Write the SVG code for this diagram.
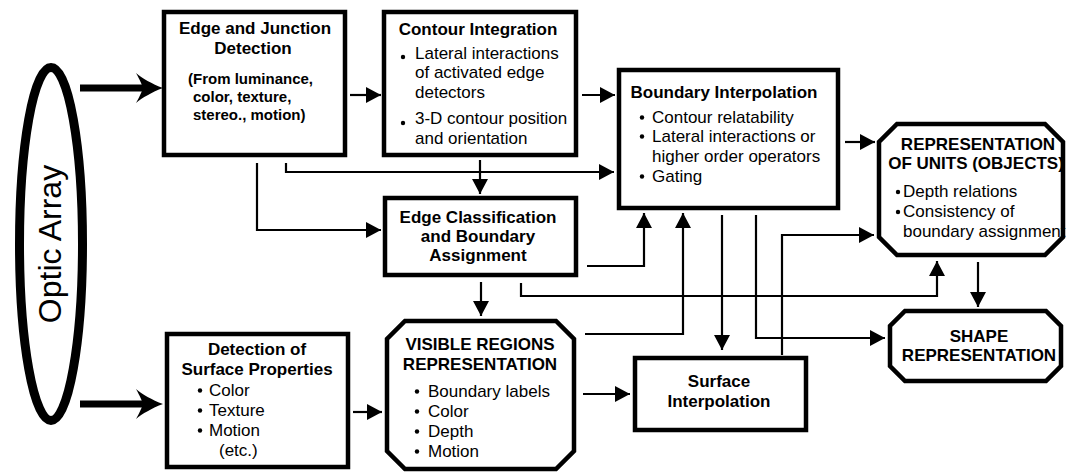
<svg xmlns="http://www.w3.org/2000/svg" width="1066" height="473" viewBox="0 0 1066 473">
<style>
.box{fill:#fff;stroke:#000;stroke-width:4.5}
.c{fill:none;stroke:#000;stroke-width:2.2}
.tk{fill:none;stroke:#000;stroke-width:7}
.t{font-family:"Liberation Sans",Arial,sans-serif;font-size:17px;font-weight:bold;text-anchor:middle;fill:#000}
.s{font-family:"Liberation Sans",Arial,sans-serif;font-size:15px;font-weight:bold;fill:#000}
.b{font-family:"Liberation Sans",Arial,sans-serif;font-size:17px;fill:#000}
.o{font-family:"Liberation Sans",Arial,sans-serif;font-size:32px;fill:#000;text-anchor:middle}
.d{fill:#000}
</style>
<defs>
<marker id="ah" markerUnits="userSpaceOnUse" markerWidth="16" markerHeight="16" refX="15" refY="8" orient="auto" viewBox="0 0 16 16">
<path d="M0,0 L15,8 L0,16 z" fill="#000"/>
</marker>
</defs>
<rect width="1066" height="473" fill="#fff"/>

<g id="optic-array">
<ellipse cx="51" cy="244" rx="31.5" ry="176.5" fill="#fff" stroke="#000" stroke-width="9"/>
<text class="o" transform="translate(61,244) rotate(-90)" x="0" y="0">Optic Array</text>
</g>

<g id="connectors">
<line class="tk" x1="80" y1="88" x2="144" y2="88"/>
<path d="M163,88 C152,84 142,78 136,73 C140,80 142,85 143,88 C142,91 140,96 136,103 C142,98 152,92 163,88 Z" fill="#000"/>
<line class="tk" x1="80" y1="404" x2="144" y2="404"/>
<path d="M163,404 C152,400 142,394 136,389 C140,396 142,401 143,404 C142,407 140,412 136,419 C142,414 152,408 163,404 Z" fill="#000"/>

<path class="c" d="M350,95 H381" marker-end="url(#ah)"/>
<path class="c" d="M582,95 H615" marker-end="url(#ah)"/>
<path class="c" d="M845,142 H875" marker-end="url(#ah)"/>
<path class="c" d="M257,163 V230 H381" marker-end="url(#ah)"/>
<path class="c" d="M286,163 V172 H614" marker-end="url(#ah)"/>
<path class="c" d="M480,160 V194" marker-end="url(#ah)"/>
<path class="c" d="M587,266 H644 V213" marker-end="url(#ah)"/>
<path class="c" d="M585,334 H683 V213" marker-end="url(#ah)"/>
<path class="c" d="M481,282 V316" marker-end="url(#ah)"/>
<path class="c" d="M521,283 V296 H937 V261" marker-end="url(#ah)"/>
<path class="c" d="M722,215 V350" marker-end="url(#ah)"/>
<path class="c" d="M756,215 V338 H885" marker-end="url(#ah)"/>
<path class="c" d="M782,355 V235 H874" marker-end="url(#ah)"/>
<path class="c" d="M978,262 V307" marker-end="url(#ah)"/>
<path class="c" d="M583,394 H630" marker-end="url(#ah)"/>
<path class="c" d="M353,412 H382" marker-end="url(#ah)"/>
</g>

<g id="edge-junction">
<rect class="box" x="164" y="12" width="181" height="143"/>
<text class="t"><tspan x="255" y="34">Edge and Junction</tspan><tspan x="253" y="54">Detection</tspan></text>
<text class="s"><tspan x="188" y="84">(From luminance,</tspan><tspan x="193" y="102">color, texture,</tspan><tspan x="193" y="120">stereo., motion)</tspan></text>
</g>

<g id="contour-integration">
<rect class="box" x="384" y="12" width="192" height="143"/>
<text class="t" x="478" y="35">Contour Integration</text>
<circle class="d" cx="403" cy="57" r="2.2"/>
<circle class="d" cx="403" cy="123" r="2.2"/>
<text class="b"><tspan x="415" y="59">Lateral interactions</tspan><tspan x="415" y="78">of activated edge</tspan><tspan x="415" y="98">detectors</tspan><tspan x="415" y="124">3-D contour position</tspan><tspan x="415" y="144">and orientation</tspan></text>
</g>

<g id="boundary-interpolation">
<rect class="box" x="619" y="70" width="219" height="138"/>
<text class="t" x="724" y="98">Boundary Interpolation</text>
<circle class="d" cx="642" cy="117.5" r="2.2"/>
<circle class="d" cx="642" cy="136.5" r="2.2"/>
<circle class="d" cx="642" cy="176.5" r="2.2"/>
<text class="b"><tspan x="652" y="123">Contour relatability</tspan><tspan x="652" y="142">Lateral interactions or</tspan><tspan x="652" y="162">higher order operators</tspan><tspan x="652" y="182">Gating</tspan></text>
</g>

<g id="representation-of-units">
<path class="box" d="M897,124 H1045 L1063,142 V237 L1045,255 H897 L879,237 V142 Z"/>
<text class="t"><tspan x="978" y="150">REPRESENTATION</tspan><tspan x="976" y="169">OF UNITS (OBJECTS)</tspan></text>
<circle class="d" cx="898" cy="192" r="2.2"/>
<circle class="d" cx="898" cy="212" r="2.2"/>
<text class="b"><tspan x="903" y="197">Depth relations</tspan><tspan x="903" y="217">Consistency of</tspan><tspan x="903" y="237">boundary assignment</tspan></text>
</g>

<g id="edge-classification">
<rect class="box" x="385" y="198" width="191" height="77"/>
<text class="t"><tspan x="478" y="223">Edge Classification</tspan><tspan x="478" y="242">and Boundary</tspan><tspan x="478" y="261">Assignment</tspan></text>
</g>

<g id="visible-regions">
<path class="box" d="M405,321 H556 L574,339 V451 L556,469 H405 L387,451 V339 Z"/>
<text class="t"><tspan x="480" y="350">VISIBLE REGIONS</tspan><tspan x="480" y="370">REPRESENTATION</tspan></text>
<circle class="d" cx="417" cy="391.5" r="2.2"/>
<circle class="d" cx="417" cy="411.5" r="2.2"/>
<circle class="d" cx="417" cy="431.5" r="2.2"/>
<circle class="d" cx="417" cy="451.5" r="2.2"/>
<text class="b"><tspan x="428" y="397">Boundary labels</tspan><tspan x="428" y="417">Color</tspan><tspan x="428" y="437">Depth</tspan><tspan x="428" y="457">Motion</tspan></text>
</g>

<g id="detection-surface">
<rect class="box" x="167" y="334" width="181" height="133"/>
<text class="t"><tspan x="257" y="355">Detection of</tspan><tspan x="257" y="375">Surface Properties</tspan></text>
<circle class="d" cx="200" cy="390.5" r="2.2"/>
<circle class="d" cx="200" cy="410.5" r="2.2"/>
<circle class="d" cx="200" cy="430.5" r="2.2"/>
<text class="b"><tspan x="209" y="396">Color</tspan><tspan x="209" y="416">Texture</tspan><tspan x="209" y="436">Motion</tspan><tspan x="219" y="456">(etc.)</tspan></text>
</g>

<g id="surface-interpolation">
<rect class="box" x="635" y="358" width="171" height="72"/>
<text class="t"><tspan x="719" y="387">Surface</tspan><tspan x="719" y="407">Interpolation</tspan></text>
</g>

<g id="shape-representation">
<path class="box" d="M905,311 H1046 L1061,326 V366 L1046,381 H905 L890,366 V326 Z"/>
<text class="t"><tspan x="979" y="342">SHAPE</tspan><tspan x="979" y="361">REPRESENTATION</tspan></text>
</g>
</svg>
